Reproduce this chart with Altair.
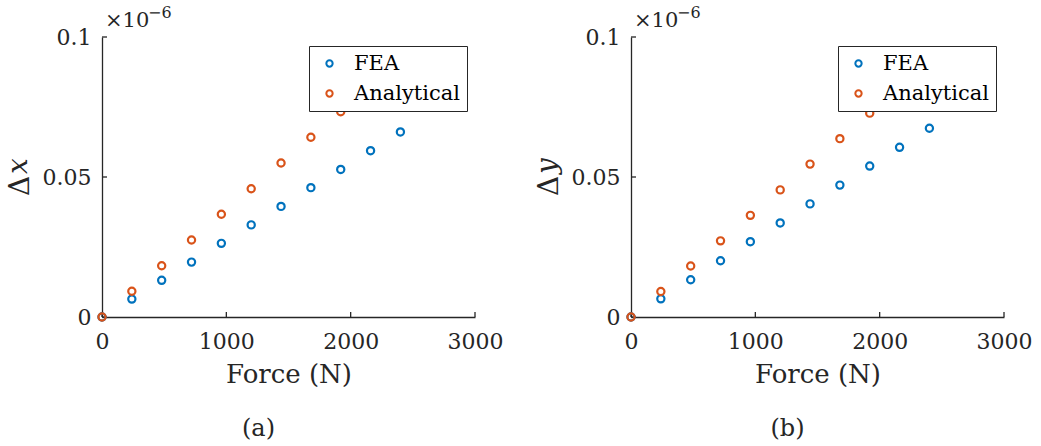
import altair as alt
import pandas as pd

# ---- data (y values in units of 1e-6) ----
force_fea = [0, 240, 480, 720, 960, 1200, 1440, 1680, 1920, 2160, 2400]
force_ana = [0, 240, 480, 720, 960, 1200, 1440, 1680, 1920]
dx_fea = [0, 0.0064, 0.0131, 0.0196, 0.0263, 0.0329, 0.0395, 0.0462, 0.0527, 0.0594, 0.0661]
dx_ana = [0, 0.0092, 0.0183, 0.0275, 0.0367, 0.0458, 0.0550, 0.0642, 0.0733]
dy_fea = [0, 0.0065, 0.0133, 0.0201, 0.0269, 0.0336, 0.0404, 0.0471, 0.0539, 0.0606, 0.0674]
dy_ana = [0, 0.0091, 0.0182, 0.0272, 0.0363, 0.0454, 0.0546, 0.0637, 0.0728]
series = ["FEA", "Analytical"]
colors = ["#0072BD", "#D95319"]
x_ticks = [0, 1000, 2000, 3000]
y_ticks = [0, 0.05, 0.1]

W, H = 373, 280
FONT = "DejaVu Serif"
INK = "#262626"


def panel(fea, ana, sym, cap):
    df = pd.DataFrame({
        "force": force_fea + force_ana,
        "d": fea + ana,
        "series": ["FEA"] * len(fea) + ["Analytical"] * len(ana),
    })
    xs = alt.Scale(domain=[0, 3000], nice=False, zero=False)
    ys = alt.Scale(domain=[0, 0.1], nice=False, zero=False)
    pts = alt.Chart(df).mark_point(
        shape="circle", filled=False, size=52, strokeWidth=2.2, opacity=1, clip=False
    ).encode(
        x=alt.X("force:Q", scale=xs, axis=alt.Axis(
            values=x_ticks, format="d", tickSize=0, grid=False, labelPadding=14,
            labelFont=FONT, labelFontSize=22, labelColor=INK, labelFlush=False,
            domainColor=INK, domainWidth=1.3,
            title="Force (N)", titleFont=FONT, titleFontSize=26, titleFontWeight="normal",
            titleColor=INK, titlePadding=9)),
        y=alt.Y("d:Q", scale=ys, axis=alt.Axis(
            values=y_ticks, format="~g", tickSize=0, grid=False, labelPadding=11,
            labelFont=FONT, labelFontSize=22, labelColor=INK, labelFlush=False,
            domainColor=INK, domainWidth=1.3, title=None)),
        color=alt.Color("series:N", scale=alt.Scale(domain=series, range=colors),
                        legend=alt.Legend(
                            orient="none", legendX=207, legendY=9, title=None,
                            strokeColor=INK, fillColor="white", padding=7,
                            symbolType="circle", symbolStrokeWidth=2, symbolSize=40,
                            symbolOffset=3, labelOffset=14, rowPadding=8,
                            labelFont=FONT, labelFontSize=21, labelColor="black")),
    )
    xt = alt.Chart(pd.DataFrame({"force": x_ticks})).mark_rule(
        color=INK, strokeWidth=1.3).encode(
        x="force:Q", y=alt.value(H), y2=alt.value(H - 5))
    yt = alt.Chart(pd.DataFrame({"d": y_ticks})).mark_rule(
        color=INK, strokeWidth=1.3).encode(
        y="d:Q", x=alt.value(0), x2=alt.value(5))
    delta = alt.Chart(pd.DataFrame({"t": ["Δ"]})).mark_text(
        font=FONT, fontSize=28, angle=270, align="center", baseline="middle", color=INK
    ).encode(text="t:N", x=alt.value(-81), y=alt.value(149))
    var = alt.Chart(pd.DataFrame({"t": [sym]})).mark_text(
        font=FONT, fontSize=28, fontStyle="italic", angle=270, align="center",
        baseline="middle", color=INK
    ).encode(text="t:N", x=alt.value(-83), y=alt.value(129))
    mult = alt.Chart(pd.DataFrame({"t": ["×10"]})).mark_text(
        font=FONT, fontSize=21, align="left", baseline="alphabetic", color=INK
    ).encode(text="t:N", x=alt.value(3), y=alt.value(-10))
    expo = alt.Chart(pd.DataFrame({"t": ["−6"]})).mark_text(
        font=FONT, fontSize=16, align="left", baseline="alphabetic", color=INK
    ).encode(text="t:N", x=alt.value(46), y=alt.value(-19))
    return alt.layer(xt, yt, pts, delta, var, mult, expo).properties(
        width=W, height=H,
        title=alt.TitleParams(cap, orient="bottom", font=FONT, fontSize=24,
                              fontWeight="normal", color=INK, dx=-30, offset=30),
    )


left = panel(dx_fea, dx_ana, "x", "(a)")
right = panel(dy_fea, dy_ana, "y", "(b)")

chart = alt.hconcat(left, right, spacing=156, bounds="flush").resolve_scale(
    color="independent").resolve_legend(color="independent").properties(
    padding={"left": 5, "top": 5, "right": 0, "bottom": 0},
    background="white",
).configure_view(stroke=None)

chart.save("out.html", embed_options={"renderer": "svg", "actions": False})
